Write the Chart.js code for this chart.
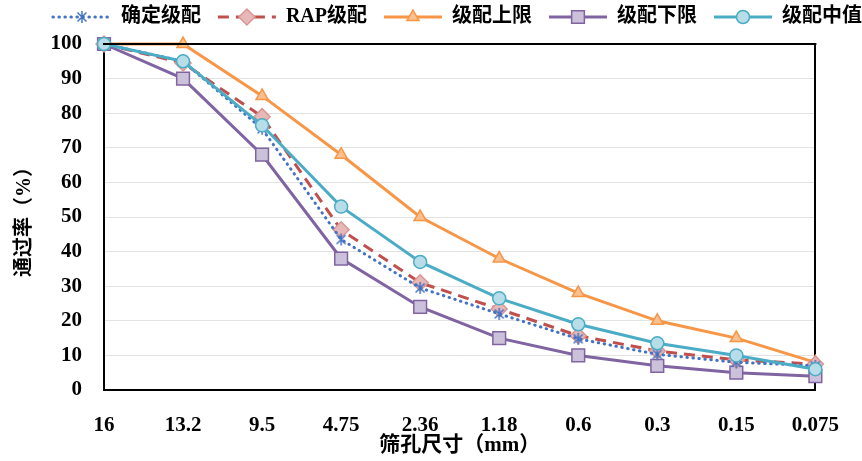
<!DOCTYPE html>
<html>
<head>
<meta charset="utf-8">
<script src="https://cdn.jsdelivr.net/npm/chart.js@4.4.1/dist/chart.umd.min.js"></script>
<style>
    html, body { margin: 0; padding: 0; background: #ffffff; }
</style>
</head>
<body>
<canvas id="gradationChart" width="862" height="461"></canvas>
<script>
// Sieve sizes (mm) along the x axis
const sieveSizes = ['16', '13.2', '9.5', '4.75', '2.36', '1.18', '0.6', '0.3', '0.15', '0.075'];

// Passing percentages
const designGrading = [100, 95, 75.5, 43.5, 29.5, 22, 14.8, 10.3, 8, 7];
const rapGrading    = [100, 94.5, 79, 46.3, 31, 23.4, 15.7, 11.3, 8.7, 7.5];
const upperLimit    = [100, 100, 85, 68, 50, 38, 28, 20, 15, 8];
const lowerLimit    = [100, 90, 68, 38, 24, 15, 10, 7, 5, 4];
const midGrading    = [100, 95, 76.5, 53, 37, 26.5, 19, 13.5, 10, 6];

const seriesNames = ['确定级配', 'RAP级配', '级配上限', '级配下限', '级配中值'];
const yTicks = [0, 10, 20, 30, 40, 50, 60, 70, 80, 90, 100];

const FONT_FAMILY = "'Liberation Serif', 'Noto Sans CJK SC', serif";
const LEG_GAP = 17;   // empty space before each legend line
const LEG_LINE = 58;  // length of the legend line sample

// Excel-style asterisk marker (X plus a vertical stroke)
function asteriskMarker(color) {
    const c = document.createElement('canvas');
    c.width = 14;
    c.height = 14;
    const g = c.getContext('2d');
    g.strokeStyle = color;
    g.lineWidth = 1.5;
    g.beginPath();
    g.moveTo(7, 1); g.lineTo(7, 13);
    g.moveTo(2.5, 2.5); g.lineTo(11.5, 11.5);
    g.moveTo(11.5, 2.5); g.lineTo(2.5, 11.5);
    g.stroke();
    return c;
}

// Top edge of the plot frame, at the y = 100 position
const frameTop = {
    id: 'frameTop',
    afterDraw(chart) {
        const c = chart.ctx;
        const area = chart.chartArea;
        const yTop = chart.scales.y.getPixelForValue(100);
        c.save();
        c.strokeStyle = '#000000';
        c.lineWidth = 2;
        c.beginPath();
        c.moveTo(area.left - 1, yTop);
        c.lineTo(area.right + 1, yTop);
        c.stroke();
        c.restore();
    }
};

// Draw a line + marker sample in each legend slot (Chart.js only draws a box or a point)
const legendSamples = {
    id: 'legendSamples',
    afterDraw(chart) {
        const legend = chart.legend;
        if (!legend || !legend.legendHitBoxes) return;
        const c = chart.ctx;
        legend.legendHitBoxes.forEach((hb, i) => {
            const ds = chart.data.datasets[legend.legendItems[i].datasetIndex];
            const y = hb.top + hb.height / 2;
            const x0 = hb.left + LEG_GAP;
            const x1 = x0 + LEG_LINE;
            c.save();
            c.strokeStyle = ds.borderColor;
            c.lineWidth = ds.borderWidth;
            c.lineCap = ds.borderCapStyle || 'butt';
            c.setLineDash(ds.borderDash || []);
            c.beginPath();
            c.moveTo(x0, y);
            c.lineTo(x1, y);
            c.stroke();
            c.setLineDash([]);
            c.lineCap = 'butt';
            c.fillStyle = ds.pointBackgroundColor;
            c.strokeStyle = ds.pointBorderColor;
            c.lineWidth = ds.pointBorderWidth;
            Chart.helpers.drawPoint(c, {
                pointStyle: ds.pointStyle,
                radius: ds.pointRadius,
                rotation: 0,
                borderWidth: ds.pointBorderWidth
            }, (x0 + x1) / 2, y);
            c.restore();
        });
    }
};

function makeSeries(label, data, color, dash, cap, style, radius, fill, edge, order) {
    return {
        label: label,
        data: data,
        borderColor: color,
        borderWidth: 3,
        borderDash: dash,
        borderCapStyle: cap,
        tension: 0,
        fill: false,
        pointStyle: style,
        pointRadius: radius,
        pointBackgroundColor: fill,
        pointBorderColor: edge,
        pointBorderWidth: 1.5,
        clip: false,
        order: order
    };
}

const canvasCtx = document.getElementById('gradationChart').getContext('2d');
new Chart(canvasCtx, {
    type: 'line',
    data: {
        labels: sieveSizes,
        datasets: [
            makeSeries(seriesNames[0], designGrading, '#4472C4', [0.5, 5.5], 'round', asteriskMarker('#4472C4'), 7, '#4472C4', '#4472C4', 1),
            makeSeries(seriesNames[1], rapGrading, '#C0504D', [11, 7], 'butt', 'rectRot', 8, '#E6B9B8', '#D99694', 2),
            makeSeries(seriesNames[2], upperLimit, '#F79646', [], 'butt', 'triangle', 7, '#FAC090', '#F79646', 4),
            makeSeries(seriesNames[3], lowerLimit, '#8064A2', [], 'butt', 'rect', 9, '#CCC1DA', '#8064A2', 3),
            makeSeries(seriesNames[4], midGrading, '#4BACC6', [], 'butt', 'circle', 6.5, '#B7DEE8', '#4BACC6', 0)
        ]
    },
    options: {
        responsive: false,
        animation: false,
        layout: { padding: 0 },
        scales: {
            x: {
                type: 'category',
                offset: false,
                grid: { display: false, drawTicks: false },
                border: { display: true, color: '#000000', width: 2 },
                ticks: {
                    color: '#000000',
                    padding: 23,
                    maxRotation: 0,
                    autoSkip: false,
                    font: { family: FONT_FAMILY, size: 21, weight: 'bold' }
                },
                title: {
                    display: true,
                    text: '筛孔尺寸（mm）',
                    color: '#000000',
                    padding: { top: 0, bottom: 3 },
                    font: { family: FONT_FAMILY, size: 21, weight: 'bold' }
                },
                afterFit: function(scale) { scale.height = 71; }
            },
            y: {
                min: 0,
                max: 100,
                afterBuildTicks: function(scale) {
                    scale.ticks = yTicks.map(v => ({ value: v }));
                },
                grid: { color: '#E3E3E3', lineWidth: 1, drawTicks: false },
                border: { display: true, color: '#000000', width: 2 },
                ticks: {
                    color: '#000000',
                    padding: 22,
                    font: { family: FONT_FAMILY, size: 21, weight: 'bold' }
                },
                title: {
                    display: true,
                    text: '通过率（%）',
                    color: '#000000',
                    padding: { top: 13, bottom: 0 },
                    font: { family: FONT_FAMILY, size: 20, weight: 'bold' }
                },
                afterFit: function(scale) { scale.width = 104; }
            },
            yRight: {
                position: 'right',
                min: 0,
                max: 100,
                grid: { display: false, drawTicks: false },
                border: { display: true, color: '#000000', width: 2 },
                ticks: { display: false },
                afterFit: function(scale) { scale.width = 42; }
            }
        },
        plugins: {
            legend: {
                position: 'top',
                align: 'end',
                labels: {
                    color: '#000000',
                    boxWidth: LEG_GAP + LEG_LINE,
                    boxHeight: 34,
                    padding: 0,
                    font: { family: FONT_FAMILY, size: 20, weight: 'bold' },
                    sort: (a, b) => a.datasetIndex - b.datasetIndex,
                    generateLabels: function(chart) {
                        return Chart.defaults.plugins.legend.labels.generateLabels(chart).map(item => {
                            item.fillStyle = 'rgba(0,0,0,0)';
                            item.strokeStyle = 'rgba(0,0,0,0)';
                            item.lineWidth = 0;
                            return item;
                        });
                    }
                }
            },
            tooltip: { enabled: false }
        }
    },
    plugins: [frameTop, legendSamples]
});
</script>
</body>
</html>
